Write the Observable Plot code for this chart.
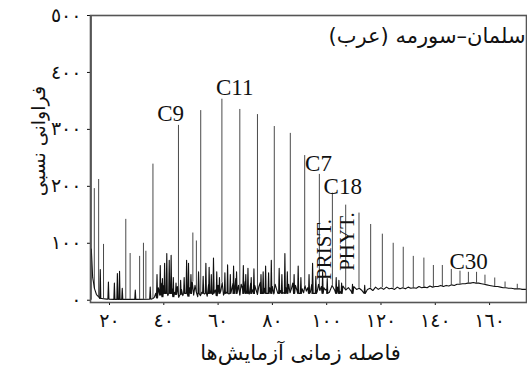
<!DOCTYPE html>
<html><head><meta charset="utf-8">
<script src="https://cdn.jsdelivr.net/npm/d3@7"></script>
<script src="https://cdn.jsdelivr.net/npm/@observablehq/plot@0.6"></script>
<style>
body{margin:0;background:#fff;}
#chart svg{display:block;}
</style></head><body><div id="chart"></div>
<script>
// ---- data ----
const titleText = "سلمان–سورمه (عرب)";
const xLabel = "فاصله زمانی آزمایش‌ها";
const yLabel = "فراوانی نسبی";
const xTicks = [20, 40, 60, 80, 100, 120, 140, 160];
const yTicks = [0, 100, 200, 300, 400, 500];

// major peaks (drawn as thin vertical lines)
const peakX = [13.3, 14.4, 16.0, 17.8, 26.0, 27.6, 31.1, 32.5, 33.4, 36.0,
  45.4, 50.7, 52.0, 53.6, 61.4, 68.0, 74.5, 80.7, 86.6, 91.9, 97.3, 102.1, 107.0, 111.9, 116.2, 120.5, 124.5, 128.2,
  131.9, 135.8, 139.3, 142.6, 145.9, 149.1, 152.2, 155.2, 158.3, 161.9, 165.7, 170.2];
const peakH = [520, 196, 212, 98, 142, 82, 77, 100, 86, 239,
  307, 118, 104, 333, 353, 335, 326, 305, 293, 254, 221, 188, 167, 153, 133, 116, 100, 93,
  77, 74, 61, 61, 54, 51, 49, 49, 44, 39, 32, 28];

// minor peaks (part of the black trace)
const minorX = [16.6, 19.6, 21.8, 22.9, 23.7, 24.7, 29.5, 35.0, 37.5, 38.7, 39.5, 40.3, 41.1, 42.0, 42.7, 43.5, 44.5,
  46.2, 47.5, 48.4, 49.1, 50.0, 52.8, 54.5, 55.5, 56.7, 57.5, 58.3, 59.5, 60.5, 62.5, 63.5, 64.5, 65.7, 66.8, 69.3,
  70.2, 71.0, 72.2, 73.2, 75.8, 76.6, 77.5, 78.6, 79.6, 82.5, 83.5, 84.6, 85.5, 88.0, 89.5, 90.5, 93.5, 94.8, 96.0,
  98.5, 100.2, 103.5, 104.5, 105.5, 109.5, 114.0];
const minorH = [54, 32, 30, 47, 51, 21, 18, 23, 45, 61, 38, 65, 82, 70, 79, 40, 30,
  35, 40, 70, 65, 45, 50, 42, 65, 58, 45, 74, 50, 40, 48, 62, 45, 60, 50, 61,
  45, 56, 40, 55, 45, 50, 60, 48, 70, 56, 45, 82, 50, 45, 60, 40, 45, 65, 42,
  50, 38, 40, 35, 30, 28, 26];

// baseline before the noisy region
const earlyX = [13.3, 13.8, 14.5, 15.2, 16.0, 17.0, 19.0, 24.0, 30.0, 35.5];
const earlyY = [90, 40, 20, 10, 6, 3, 2, 1.5, 1.5, 2];
// noisy region, sampled every 0.5 from 36
const noiseStart = 36, noiseStep = 0.5;
const noiseY = [3, 5, 12, 4, 22, 9, 30, 6, 26, 14, 34, 8, 28, 17, 20, 6, 14, 10, 24, 5,
  10, 19, 8, 26, 12, 30, 7, 22, 16, 32, 9, 26, 14, 6, 21, 8, 14, 28, 11, 22,
  7, 28, 16, 34, 10, 24, 18, 8, 26, 13, 16, 31, 9, 26, 14, 36, 11, 24, 18, 30,
  12, 38, 15, 26, 9, 28, 20, 12, 33, 16, 36, 11, 30, 19, 13, 26, 18, 10, 24, 31,
  14, 34, 21, 40, 12, 30, 22, 14, 24, 11, 28, 20, 12, 26, 17, 36, 13, 30, 22, 15,
  28, 13, 20, 30, 14, 26, 18, 32, 12, 24, 20, 13, 26, 16, 22, 30, 14, 28, 19, 12,
  24, 15, 28, 17, 24, 14, 22, 18];
// late region, sampled every 1 from 100
const tailStart = 100, tailStep = 1;
const tailY = [20, 14, 26, 17, 23, 15, 25, 18, 22, 16, 24, 19, 21, 17, 23, 19, 21, 17, 23, 19,
  22, 19, 23, 20, 21, 19, 23, 20, 22, 20, 23, 21, 22, 21, 24, 22, 23, 22, 25, 23,
  24, 24, 26, 24, 26, 25, 27, 26, 28, 28, 29, 29, 30, 30, 31, 30, 30, 29, 28, 27,
  26, 25, 24, 24, 23, 22, 22, 21, 21, 20, 20, 20, 19, 19, 19];

// annotations
const labelText = ["C9", "C11", "C7", "C18", "C30"];
const labelX = [42.5, 66.1, 97.0, 105.9, 152.3];
const labelY = [328, 374, 240, 200, 67];
const vLabelText = ["PRIST.", "PHYT."];
const vLabelX = [99.2, 107.6];
const vLabelY = [89, 103];

// ---- build tables ----
const base = [];
earlyX.forEach((x, i) => base.push({x, y: earlyY[i]}));
noiseY.forEach((y, i) => base.push({x: noiseStart + i * noiseStep, y}));
tailY.forEach((y, i) => base.push({x: tailStart + i * tailStep, y}));
const baseAt = x => {
  let best = base[0];
  for (const p of base) if (Math.abs(p.x - x) < Math.abs(best.x - x)) best = p;
  return best.y;
};
const spikes = [];
minorX.forEach((x, i) => {
  const b = Math.min(baseAt(x), 12);
  spikes.push({x: x - 0.2, y: b}, {x, y: minorH[i]}, {x: x + 0.2, y: b});
});
const trace = base.filter(p => !minorX.some(m => Math.abs(m - p.x) < 0.2))
  .concat(spikes).sort((a, b) => a.x - b.x);
const peaks = peakX.map((x, i) => ({x, h: peakH[i], b: i === 0 ? 0 : baseAt(x)}));
const labels = labelText.map((t, i) => ({t, x: labelX[i], y: labelY[i]}));
const vlabels = vLabelText.map((t, i) => ({t, x: vLabelX[i], y: vLabelY[i]}));
const toArabic = n => String(n).replace(/\d/g, d => "٠١٢٣٤٥٦٧٨٩"[+d]);

const chart = Plot.plot({
  width: 527, height: 376,
  marginLeft: 90, marginRight: 1, marginTop: 15, marginBottom: 74,
  style: {fontFamily: "'DejaVu Sans', sans-serif", fontSize: "19px", color: "#111", background: "#fff"},
  x: {domain: [13, 173.6], ticks: xTicks, tickFormat: toArabic, tickSize: 3, tickPadding: 8, label: null},
  y: {domain: [-4, 500], ticks: yTicks, tickFormat: toArabic, tickSize: 3, tickPadding: 6, label: null},
  marks: [
    Plot.ruleX(peaks, {x: "x", y1: "b", y2: "h", stroke: "#4a4a4a", strokeWidth: 1, clip: true}),
    Plot.line(trace, {x: "x", y: "y", stroke: "#111", strokeWidth: 1.1, clip: true}),
    Plot.frame({stroke: "#555", strokeWidth: 1.6}),
    Plot.text(labels, {x: "x", y: "y", text: "t", fontSize: 23, fill: "#111", fontFamily: "'Liberation Serif', serif"}),
    Plot.text(vlabels, {x: "x", y: "y", text: "t", rotate: -90, fontSize: 21, fill: "#111", fontFamily: "'Liberation Serif', serif"}),
    Plot.text([titleText], {frameAnchor: "top-right", text: d => d, textAnchor: "end", dx: -1, dy: 13, fontSize: 21, fill: "#111"}),
    Plot.text([yLabel], {frameAnchor: "left", text: d => d, textAnchor: "middle", rotate: -90, dx: -52, dy: -18, fontSize: 19, fill: "#111"}),
    Plot.text([xLabel], {frameAnchor: "bottom", text: d => d, dy: 57, dx: -8, fontSize: 21, fill: "#111"})
  ]
});
document.getElementById("chart").appendChild(chart);
</script></body></html>
